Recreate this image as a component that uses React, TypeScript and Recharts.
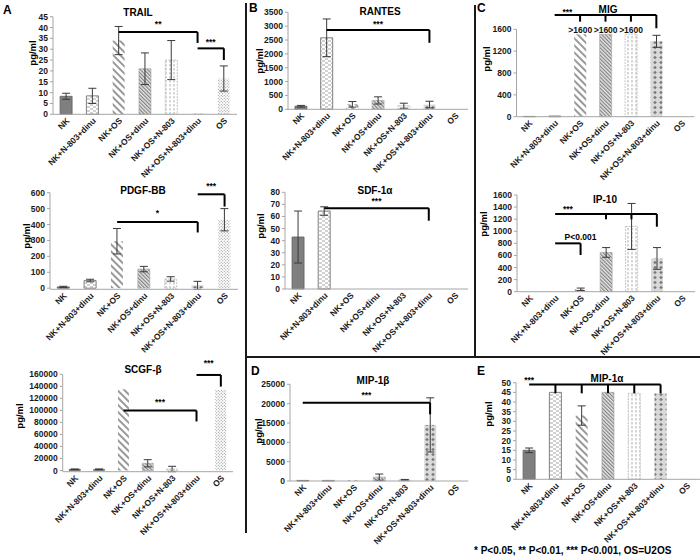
import React from "react";
import {
  Bar,
  BarChart,
  Cell,
  ErrorBar,
  LabelList,
  ReferenceLine,
  XAxis,
  YAxis,
} from "recharts";

// groups on every x axis
const categories = [
  "NK",
  "NK+N-803+dinu",
  "NK+OS",
  "NK+OS+dinu",
  "NK+OS+N-803",
  "NK+OS+N-803+dinu",
  "OS",
];

// mean (pg/ml) and error, same order as categories
const trailMean = [8.3, 8.5, 34, 21, 25, 0.3, 16.5];
const trailErr = [1.4, 3.5, 6.5, 7.3, 9, 0, 5.8];
const pdgfMean = [8, 48, 295, 120, 58, 18, 430];
const pdgfErr = [4, 8, 80, 17, 14, 25, 70];
const scgfMean = [2000, 2000, 135000, 12000, 2500, 0, 134000];
const scgfErr = [500, 500, 0, 6000, 4500, 0, 0];
const rantesMean = [110, 2580, 180, 320, 130, 170, 5];
const rantesErr = [30, 680, 100, 130, 90, 120, 0];
const sdfMean = [43, 64.5, 0, 0, 0, 0, 0];
const sdfErr = [21.5, 3.5, 0, 0, 0, 0, 0];
const migMean = [5, 12, 1510, 1510, 1510, 1380, 0];
const migErr = [0, 0, 0, 0, 0, 110, 0];
const migNotes = ["", "", ">1600", ">1600", ">1600", "", ""];
const ip10Mean = [0, 0, 40, 650, 1080, 550, 0];
const ip10Err = [0, 0, 20, 80, 380, 180, 0];
const mip1bMean = [150, 150, 200, 1000, 300, 14500, 0];
const mip1bErr = [0, 0, 0, 800, 100, 7000, 0];
const mip1aMean = [15, 45, 33, 45, 44.5, 44.5, 0.2];
const mip1aErr = [1.2, 0, 5, 0, 0, 0, 0];

// y ticks
const trailTicks = [0, 5, 10, 15, 20, 25, 30, 35, 40, 45];
const pdgfTicks = [0, 100, 200, 300, 400, 500, 600];
const scgfTicks = [0, 20000, 40000, 60000, 80000, 100000, 120000, 140000, 160000];
const rantesTicks = [0, 500, 1000, 1500, 2000, 2500, 3000, 3500];
const sdfTicks = [0, 10, 20, 30, 40, 50, 60, 70, 80];
const migTicks = [0, 400, 800, 1200, 1600];
const ip10Ticks = [0, 200, 400, 600, 800, 1000, 1200, 1400, 1600];
const mip1bTicks = [0, 5000, 10000, 15000, 20000, 25000];
const mip1aTicks = [0, 5, 10, 15, 20, 25, 30, 35, 40, 45, 50];

// significance brackets: line from/to (category index) at y, drops [index, y], text centred between tFrom..tTo at ty
type Bracket = {
  from: number;
  to: number;
  y: number;
  drops: [number, number][];
  text: string;
  tFrom: number;
  tTo: number;
  ty: number;
};

const trailBrackets: Bracket[] = [
  { from: 2, to: 5, y: 37.9, drops: [[5, 32.9]], text: "**", tFrom: 2, tTo: 5, ty: 41.6 },
  { from: 5, to: 6, y: 30.4, drops: [[6, 25]], text: "***", tFrom: 5, tTo: 6, ty: 33.5 },
];
const pdgfBrackets: Bracket[] = [
  { from: 2, to: 5, y: 416, drops: [[5, 350]], text: "*", tFrom: 2, tTo: 5, ty: 472 },
  { from: 5, to: 6, y: 590, drops: [[6, 513]], text: "***", tFrom: 5, tTo: 6, ty: 641 },
];
const scgfBrackets: Bracket[] = [
  { from: 2, to: 5, y: 99700, drops: [[5, 81600]], text: "***", tFrom: 2, tTo: 5, ty: 114000 },
  { from: 5, to: 6, y: 158900, drops: [[6, 139600]], text: "***", tFrom: 5, tTo: 6, ty: 178600 },
];
const rantesBrackets: Bracket[] = [
  { from: 1, to: 5, y: 2861, drops: [[5, 2400]], text: "***", tFrom: 1, tTo: 5, ty: 3078 },
];
const sdfBrackets: Bracket[] = [
  { from: 1, to: 5, y: 66.8, drops: [[5, 56.5]], text: "***", tFrom: 1, tTo: 5, ty: 73 },
];
const migBrackets: Bracket[] = [
  {
    from: 1, to: 5, y: 1862,
    drops: [[2, 1740], [3, 1740], [4, 1740], [5, 1619]],
    text: "***", tFrom: 1, tTo: 2, ty: 1923,
  },
];
const ip10Brackets: Bracket[] = [
  {
    from: 1, to: 5, y: 1285,
    drops: [[3, 1198], [4, 1198], [5, 1075]],
    text: "***", tFrom: 1, tTo: 2, ty: 1363,
  },
  { from: 1, to: 2, y: 800, drops: [[2, 607]], text: "P<0.001", tFrom: 2, tTo: 2, ty: 910 },
];
const mip1bBrackets: Bracket[] = [
  { from: 0, to: 5, y: 20240, drops: [[5, 17240]], text: "***", tFrom: 0, tTo: 5, ty: 22230 },
];
const mip1aBrackets: Bracket[] = [
  {
    from: 0, to: 5, y: 49.1,
    drops: [[1, 44.5], [2, 44.5], [3, 44.5], [4, 44.5], [5, 44.5]],
    text: "***", tFrom: 0, tTo: 0, ty: 51.3,
  },
];

const FONT = "'Liberation Sans', Arial, Helvetica, sans-serif";
const AXIS = "#a6a6a6";

// fill per category (Excel-style pattern fills)
const CELL_STYLE = [
  { fill: "#7f7f7f", stroke: "#5f5f5f", strokeWidth: 0.8 },
  { fill: "url(#pDinu)", stroke: "#808080", strokeWidth: 1 },
  { fill: "url(#pOS)", stroke: "none", strokeWidth: 0 },
  { fill: "url(#pOSdinu)", stroke: "#a0a0a0", strokeWidth: 0.6 },
  { fill: "url(#pN803)", stroke: "#b8b8b8", strokeWidth: 0.8, strokeDasharray: "2 1" },
  { fill: "url(#pPlus)", stroke: "none", strokeWidth: 0 },
  { fill: "url(#pDots)", stroke: "none", strokeWidth: 0 },
];

type Spec = {
  title: string;
  mean: number[];
  err: number[];
  notes?: string[];
  ticks: number[];
  brackets: Bracket[];
  box: [number, number, number, number]; // left, top, w, h
  plot: [number, number, number, number]; // left, top, right, bottom
  titleAt: [number, number];
  unitAt: [number, number];
};

const panels: Spec[] = [
  { title: "TRAIL", mean: trailMean, err: trailErr, ticks: trailTicks, brackets: trailBrackets,
    box: [0, 0, 240, 188], plot: [53, 16.7, 237, 114.3], titleAt: [138, 12], unitAt: [32, 53] },
  { title: "PDGF-BB", mean: pdgfMean, err: pdgfErr, ticks: pdgfTicks, brackets: pdgfBrackets,
    box: [0, 170, 240, 192], plot: [50, 192.7, 238, 289.3], titleAt: [143, 190], unitAt: [26, 236] },
  { title: "SCGF-β", mean: scgfMean, err: scgfErr, ticks: scgfTicks, brackets: scgfBrackets,
    box: [0, 352, 240, 192], plot: [62.7, 374.3, 233, 471.7], titleAt: [143, 369], unitAt: [19, 416] },
  { title: "RANTES", mean: rantesMean, err: rantesErr, ticks: rantesTicks, brackets: rantesBrackets,
    box: [250, 0, 225, 186], plot: [288, 12.3, 468, 109.3], titleAt: [380, 11], unitAt: [259, 61] },
  { title: "SDF-1α", mean: sdfMean, err: sdfErr, ticks: sdfTicks, brackets: sdfBrackets,
    box: [250, 180, 225, 190], plot: [285, 192.3, 468, 289], titleAt: [375, 190], unitAt: [260, 226] },
  { title: "MIG", mean: migMean, err: migErr, notes: migNotes, ticks: migTicks, brackets: migBrackets,
    box: [478, 0, 222, 190], plot: [516.5, 29.3, 694.5, 116.7], titleAt: [608, 9], unitAt: [486, 59] },
  { title: "IP-10", mean: ip10Mean, err: ip10Err, ticks: ip10Ticks, brackets: ip10Brackets,
    box: [478, 180, 222, 190], plot: [517, 195, 695, 291.7], titleAt: [605, 199], unitAt: [483, 224] },
  { title: "MIP-1β", mean: mip1bMean, err: mip1bErr, ticks: mip1bTicks, brackets: mip1bBrackets,
    box: [250, 362, 225, 192], plot: [290, 384.3, 468.3, 481], titleAt: [373, 380], unitAt: [258, 431] },
  { title: "MIP-1α", mean: mip1aMean, err: mip1aErr, ticks: mip1aTicks, brackets: mip1aBrackets,
    box: [478, 362, 222, 192], plot: [516, 382.7, 700, 479.3], titleAt: [607, 378], unitAt: [488, 414] },
];

const letters: [string, number, number][] = [
  ["A", 3, 10],
  ["B", 249, 8],
  ["C", 477, 8],
  ["D", 251, 371],
  ["E", 477, 371],
];

function XTick(props: any) {
  const { x, y, payload } = props;
  const ax = x + 4;
  const ay = y + 7;
  return (
    <text
      x={ax}
      y={ay}
      transform={`rotate(-45 ${ax} ${ay})`}
      textAnchor="end"
      fontSize={8.5}
      fontWeight={700}
      fontFamily={FONT}
      fill="#1a1a1a"
    >
      {payload.value}
    </text>
  );
}

function Panel({ spec }: { spec: Spec }) {
  const [bl, bt, bw, bh] = spec.box;
  const [pl, pt, pr, pb] = spec.plot;
  const data = categories.map((name, i) => ({
    name,
    v: spec.mean[i],
    e: spec.err[i] ? spec.err[i] : null,
    note: spec.notes ? spec.notes[i] : "",
  }));
  const max = spec.ticks[spec.ticks.length - 1];

  return (
    <div style={{ position: "absolute", left: bl, top: bt }}>
      <BarChart
        width={bw}
        height={bh}
        data={data}
        margin={{ top: pt - bt, right: bl + bw - pr, left: 0, bottom: 0 }}
        barCategoryGap="27%"
      >
        <XAxis
          dataKey="name"
          interval={0}
          height={bt + bh - pb}
          tick={XTick}
          tickLine={false}
          tickSize={0}
          tickMargin={0}
          axisLine={{ stroke: AXIS }}
        />
        <YAxis
          width={pl - bl}
          domain={[0, max]}
          ticks={spec.ticks}
          interval={0}
          tickSize={3}
          tickMargin={2}
          tickLine={{ stroke: AXIS }}
          axisLine={{ stroke: AXIS }}
          tick={{ fontSize: 8.5, fontWeight: 700, fill: "#1a1a1a", fontFamily: FONT }}
        />
        <Bar dataKey="v" isAnimationActive={false}>
          {data.map((d, i) => (
            <Cell key={d.name} {...CELL_STYLE[i]} />
          ))}
          <ErrorBar dataKey="e" width={4} stroke="#3a3a3a" strokeWidth={1} direction="y" />
          {spec.notes && (
            <LabelList
              dataKey="note"
              position="top"
              offset={1}
              fill="#111"
              fontSize={8.5}
              fontWeight={700}
              fontFamily={FONT}
            />
          )}
        </Bar>
        {spec.brackets.map((b, k) => (
          <React.Fragment key={k}>
            <ReferenceLine
              segment={[
                { x: categories[b.from], y: b.y },
                { x: categories[b.to], y: b.y },
              ]}
              stroke="#000"
              strokeWidth={2}
              ifOverflow="visible"
            />
            {b.drops.map(([ci, yEnd]) => (
              <ReferenceLine
                key={ci}
                segment={[
                  { x: categories[ci], y: b.y },
                  { x: categories[ci], y: yEnd },
                ]}
                stroke="#000"
                strokeWidth={2}
                ifOverflow="visible"
              />
            ))}
            <ReferenceLine
              segment={[
                { x: categories[b.tFrom], y: b.ty },
                { x: categories[b.tTo], y: b.ty },
              ]}
              stroke="none"
              ifOverflow="visible"
              label={{
                value: b.text,
                position: "center",
                fill: "#000",
                fontSize: 8.5,
                fontWeight: 700,
                fontFamily: FONT,
              }}
            />
          </React.Fragment>
        ))}
      </BarChart>
    </div>
  );
}

const centered = (x: number, y: number): React.CSSProperties => ({
  position: "absolute",
  left: x,
  top: y,
  transform: "translate(-50%, -50%)",
  whiteSpace: "nowrap",
});

export default function App() {
  return (
    <div
      style={{
        position: "absolute",
        left: 0,
        top: 0,
        width: 700,
        height: 559,
        background: "#fff",
        fontFamily: FONT,
        color: "#000",
        overflow: "hidden",
      }}
    >
      <svg width={0} height={0} style={{ position: "absolute" }}>
        <defs>
          <pattern id="pDinu" width={6} height={4} patternUnits="userSpaceOnUse">
            <rect width={6} height={4} fill="#fff" />
            <path d="M0 1h3M3 3h3" stroke="#8c8c8c" strokeWidth={0.8} />
          </pattern>
          <pattern id="pOS" width={5} height={5} patternUnits="userSpaceOnUse" patternTransform="rotate(-45)">
            <rect width={5} height={5} fill="#fff" />
            <line x1={1} y1={0} x2={1} y2={5} stroke="#7f7f7f" strokeWidth={1.6} />
          </pattern>
          <pattern id="pOSdinu" width={2.6} height={2.6} patternUnits="userSpaceOnUse" patternTransform="rotate(-45)">
            <rect width={2.6} height={2.6} fill="#e6e6e6" />
            <line x1={0.6} y1={0} x2={0.6} y2={2.6} stroke="#7a7a7a" strokeWidth={1.1} />
          </pattern>
          <pattern id="pN803" width={4} height={4} patternUnits="userSpaceOnUse">
            <rect width={4} height={4} fill="#fff" />
            <line x1={2} y1={0} x2={2} y2={2.5} stroke="#a6a6a6" strokeWidth={0.9} />
          </pattern>
          <pattern id="pPlus" width={6} height={5} patternUnits="userSpaceOnUse">
            <rect width={6} height={5} fill="#d9d9d9" />
            <path d="M3 0.7 L4.8 2.5 L3 4.3 L1.2 2.5Z" fill="#7a7a7a" />
          </pattern>
          <pattern id="pDots" width={3} height={3} patternUnits="userSpaceOnUse">
            <rect width={3} height={3} fill="#fff" />
            <circle cx={0.75} cy={0.75} r={0.55} fill="#808080" />
            <circle cx={2.25} cy={2.25} r={0.55} fill="#808080" />
          </pattern>
        </defs>
      </svg>

      {panels.map((p) => (
        <Panel key={p.title} spec={p} />
      ))}

      {/* titles, y units, panel letters */}
      {panels.map((p) => (
        <div key={"t" + p.title} style={{ ...centered(p.titleAt[0], p.titleAt[1]), fontSize: 10, fontWeight: 700 }}>
          {p.title}
        </div>
      ))}
      {panels.map((p) => (
        <div
          key={"u" + p.title}
          style={{
            ...centered(p.unitAt[0], p.unitAt[1]),
            transform: "translate(-50%, -50%) rotate(-90deg)",
            fontSize: 9.5,
            fontWeight: 700,
          }}
        >
          pg/ml
        </div>
      ))}
      {letters.map(([t, x, y]) => (
        <div key={t} style={{ position: "absolute", left: x, top: y - 7, fontSize: 12, fontWeight: 700 }}>
          {t}
        </div>
      ))}

      {/* panel dividers */}
      <div style={{ position: "absolute", left: 245, top: 3, width: 2, height: 530, background: "#1a1a1a" }} />
      <div style={{ position: "absolute", left: 474, top: 5, width: 2, height: 352, background: "#1a1a1a" }} />
      <div style={{ position: "absolute", left: 245, top: 356, width: 455, height: 2, background: "#1a1a1a" }} />

      <div style={{ position: "absolute", left: 474, top: 545, fontSize: 10, fontWeight: 700, whiteSpace: "nowrap" }}>
        * P&lt;0.05, ** P&lt;0.01, *** P&lt;0.001, OS=U2OS
      </div>
    </div>
  );
}
